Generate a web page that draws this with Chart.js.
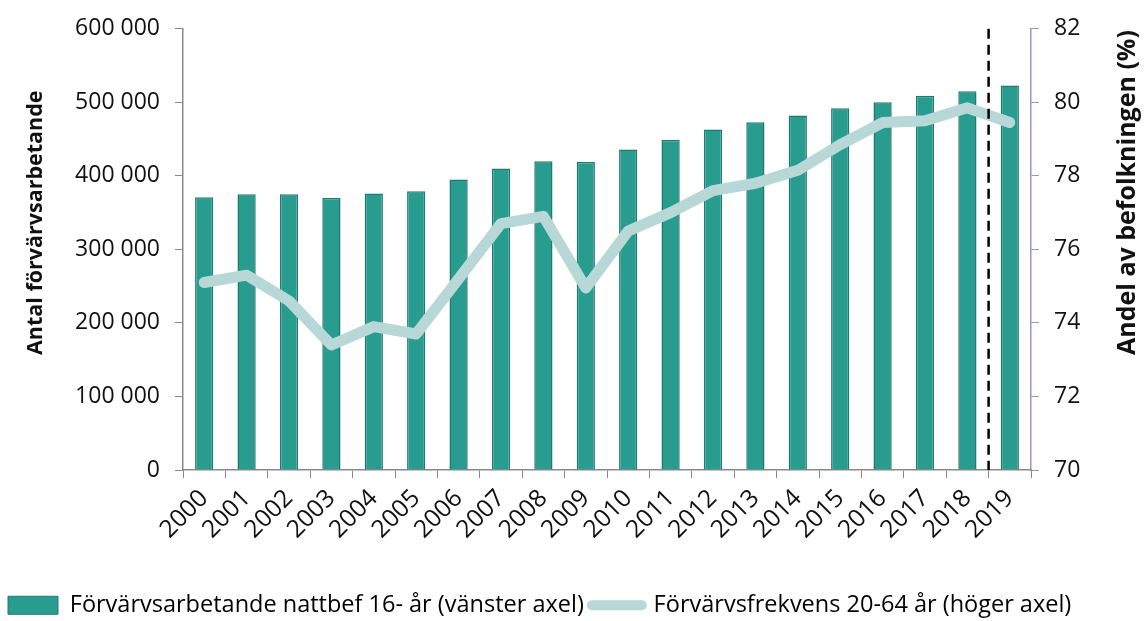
<!DOCTYPE html>
<html lang="sv">
<head>
  <meta charset="UTF-8" />
  <title>Förvärvsarbetande nattbefolkning</title>
  <script src="https://cdn.jsdelivr.net/npm/chart.js"></script>
  <style>
    html, body { margin: 0; padding: 0; background: #fff; }
    #wrap { width: 1145px; height: 621px; }
  </style>
</head>
<body>
  <div id="wrap"><canvas id="chart"></canvas></div>
  <script>
    const years = ['2000', '2001', '2002', '2003', '2004', '2005', '2006', '2007', '2008', '2009',
                   '2010', '2011', '2012', '2013', '2014', '2015', '2016', '2017', '2018', '2019'];
    const employed = [371000, 375000, 375000, 370000, 376000, 379000, 395000, 410000, 420000, 419000,
                      436000, 449000, 463000, 473000, 482000, 492000, 500000, 509000, 515000, 523000];
    const employmentRate = [75.1, 75.3, 74.6, 73.4, 73.9, 73.7, 75.2, 76.7, 76.9, 74.95,
                            76.5, 77.0, 77.6, 77.8, 78.15, 78.85, 79.45, 79.5, 79.85, 79.45];
    const leftAxis = { min: 0, max: 600000, step: 100000 };
    const rightAxis = { min: 70, max: 82, step: 2 };
    const dashedBefore = '2019';

    const barLabel = 'Förvärvsarbetande nattbef 16- år (vänster axel)';
    const lineLabel = 'Förvärvsfrekvens 20-64 år (höger axel)';
    const leftTitle = 'Antal förvärvsarbetande';
    const rightTitle = 'Andel av befolkningen (%)';

    const barColor = '#289d8f';
    const barBorder = '#1f7a6f';
    const lineColor = '#b7d8d6';
    const grey = '#898989';
    const purple = '#a390bb';

    Chart.defaults.font.family = "'Open Sans', sans-serif";
    Chart.defaults.font.size = 22;
    Chart.defaults.color = '#111';

    const fmt = v => String(v).replace(/\B(?=(\d{3})+(?!\d))/g, ' ');

    // dashed divider + rotated axis titles
    const extras = {
      id: 'extras',
      afterDatasetsDraw(chart) {
        const { ctx, chartArea, scales } = chart;
        const i = years.indexOf(dashedBefore);
        const x = (scales.x.getPixelForValue(i - 1) + scales.x.getPixelForValue(i)) / 2;
        ctx.save();
        ctx.strokeStyle = '#000';
        ctx.lineWidth = 2.5;
        ctx.setLineDash([10, 6]);
        ctx.beginPath();
        ctx.moveTo(x, chartArea.top);
        ctx.lineTo(x, chartArea.bottom);
        ctx.stroke();
        ctx.restore();
      },
      afterDraw(chart) {
        const { ctx } = chart;
        ctx.save();
        ctx.fillStyle = '#111';
        ctx.textAlign = 'left';
        ctx.textBaseline = 'middle';
        [[36, leftTitle, 21.5], [1128, rightTitle, 25]].forEach(([x, t, s]) => {
          ctx.save();
          ctx.font = `bold ${s}px 'Open Sans', sans-serif`;
          ctx.translate(x, 355);
          ctx.rotate(-Math.PI / 2);
          ctx.fillText(t, 0, 0);
          ctx.restore();
        });
        ctx.restore();
      }
    };

    new Chart(document.getElementById('chart'), {
      type: 'bar',
      data: {
        labels: years,
        datasets: [
          {
            type: 'line',
            label: lineLabel,
            data: employmentRate,
            yAxisID: 'y1',
            borderColor: lineColor,
            borderWidth: 11,
            borderCapStyle: 'round',
            borderJoinStyle: 'round',
            pointRadius: 0,
            tension: 0,
            order: 0
          },
          {
            label: barLabel,
            data: employed,
            yAxisID: 'y',
            backgroundColor: barColor,
            borderColor: barBorder,
            borderWidth: 1.5,
            categoryPercentage: 1,
            barPercentage: 0.43,
            order: 1
          }
        ]
      },
      options: {
        responsive: true,
        maintainAspectRatio: false,
        animation: false,
        layout: { padding: { top: 25, left: 0, right: 0, bottom: -6 } },
        plugins: {
          tooltip: { enabled: false },
          legend: {
            position: 'bottom',
            align: 'start',
            labels: {
              usePointStyle: true,
              pointStyleWidth: 50,
              boxHeight: 18,
              padding: 8,
              color: '#111',
              font: { size: 23.5 },
              generateLabels: () => [
                { text: barLabel, pointStyle: 'rect', fillStyle: barColor, strokeStyle: barBorder, lineWidth: 1, datasetIndex: 1 },
                { text: lineLabel, pointStyle: 'line', fillStyle: lineColor, strokeStyle: lineColor, lineWidth: 10, lineCap: 'round', datasetIndex: 0 }
              ]
            }
          }
        },
        scales: {
          x: {
            grid: { drawOnChartArea: false, drawTicks: true, tickLength: 8, color: grey, offset: true },
            border: { color: grey, width: 1.5 },
            ticks: { autoSkip: false, minRotation: 45, maxRotation: 45, padding: 6, color: '#111', font: { size: 24.5 } },
            afterFit(scale) {
              const legendH = scale.chart.legend ? scale.chart.legend.height : 40;
              scale.height = scale.chart.height - 470 - legendH + 6;
            }
          },
          y: {
            position: 'left',
            min: leftAxis.min,
            max: leftAxis.max,
            grid: { drawOnChartArea: false, tickLength: 8, color: grey },
            border: { color: grey, width: 1.5 },
            ticks: { stepSize: leftAxis.step, padding: 15, color: '#111', font: { size: 23 }, callback: v => fmt(v) },
            afterFit(scale) { scale.width = 183; }
          },
          y1: {
            position: 'right',
            min: rightAxis.min,
            max: rightAxis.max,
            grid: { drawOnChartArea: false, tickLength: 8, color: purple },
            border: { color: purple, width: 1.5 },
            ticks: { stepSize: rightAxis.step, padding: 15, color: '#111', font: { size: 23 } },
            afterFit(scale) { scale.width = 114; }
          }
        }
      },
      plugins: [extras]
    });
  </script>
</body>
</html>
